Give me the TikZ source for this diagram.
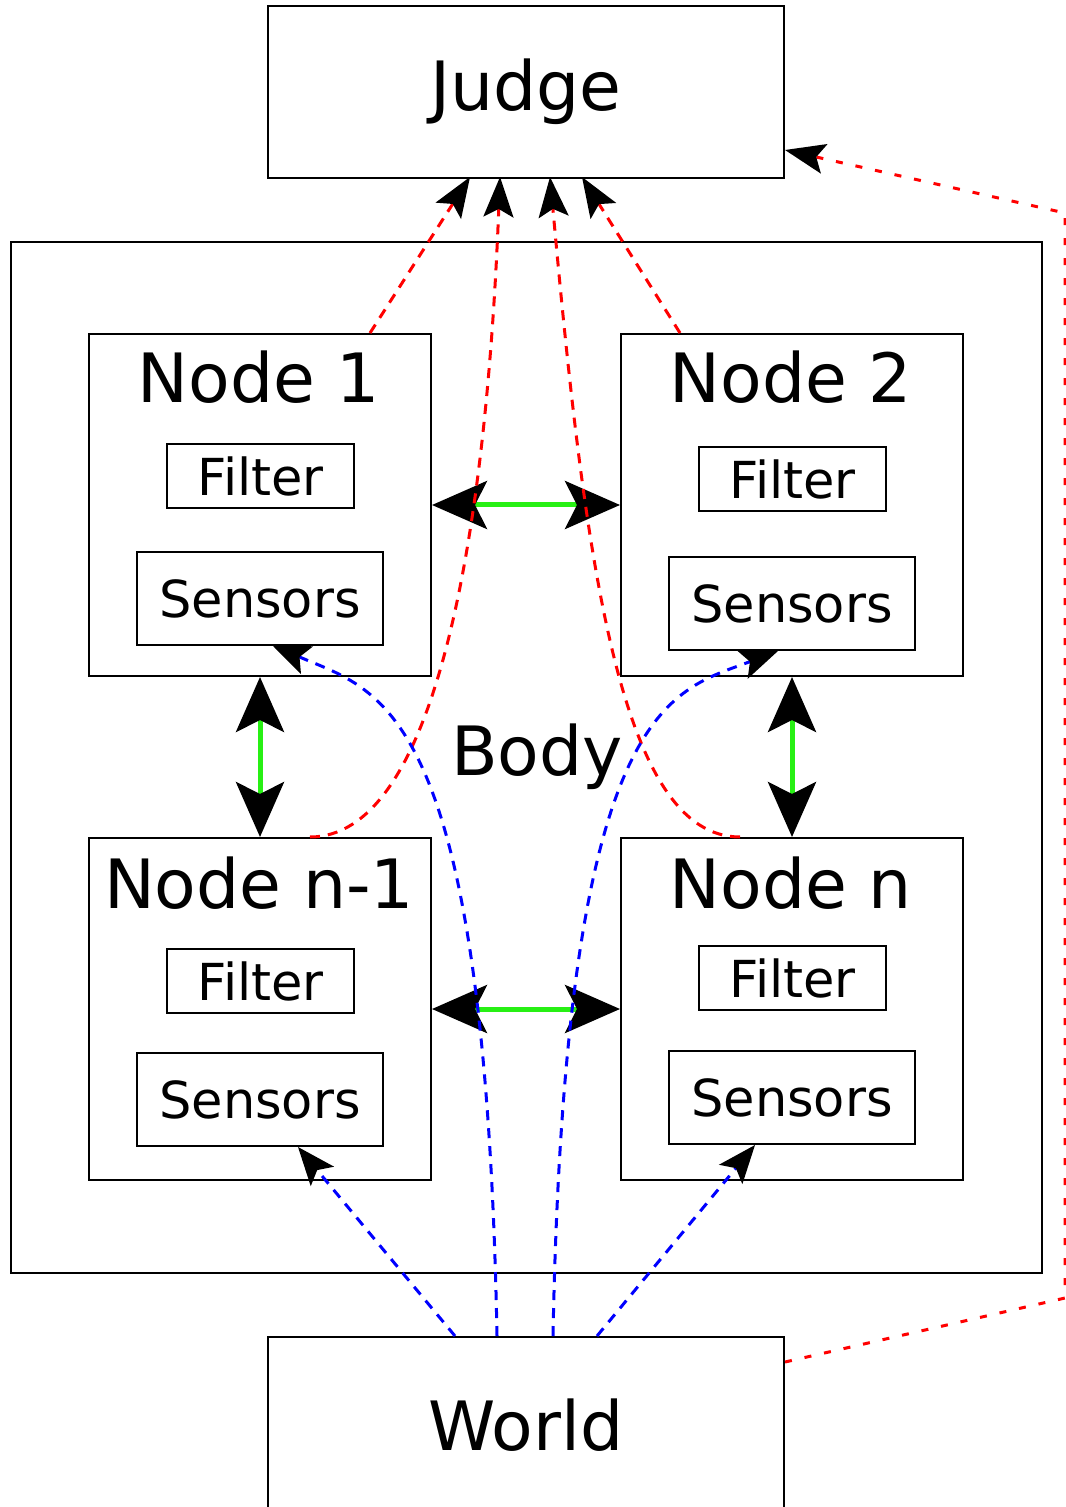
\documentclass[tikz,border=0pt]{standalone}
\usepackage{fontspec}
\setmainfont{DejaVu Sans}
\usetikzlibrary{arrows.meta, calc}

\definecolor{linkgreen}{RGB}{40,240,20}

\begin{document}
\begin{tikzpicture}[x=0.5pt, y=-0.5pt,
  box/.style={draw, line width=1pt, inner sep=0pt, anchor=north west},
  big/.style={font=\fontsize{34}{40}\selectfont},
  small/.style={font=\fontsize{25.5}{30}\selectfont},
  link/.style={linkgreen, line width=2.5pt,
    {Stealth[length=27.5pt, width=24pt, inset=6pt, color=black]}-{Stealth[length=27.5pt, width=24pt, inset=6pt, color=black]}},
  report/.style={red, line width=1.5pt, dash pattern=on 5pt off 4pt,
    -{Stealth[length=20pt, width=15pt, inset=4pt, color=black]}},
  truth/.style={red, line width=1.5pt, dash pattern=on 3.5pt off 6.5pt,
    -{Stealth[length=20pt, width=15pt, inset=4pt, color=black]}},
  sense/.style={blue, line width=1.5pt, dash pattern=on 5pt off 4pt,
    -{Stealth[length=19pt, width=15pt, inset=4pt, color=black]}}
]
	\useasboundingbox (0,0) rectangle (1065,1507);

	% outer boxes
	\node [box, minimum width=258pt, minimum height=86pt, big] (judge) at (267,5) {Judge};
	\node [box, minimum width=515.5pt, minimum height=515.5pt] (body) at (10,241) {};
	\node [big] (bodylabel) at (537,757) {Body};
	\node [box, minimum width=258pt, minimum height=88pt, big] (world) at (267,1336) {World};

	% the four nodes
	\node [box, minimum width=171pt, minimum height=171pt] (node1) at (88,333) {};
	\node [box, minimum width=171pt, minimum height=171pt] (node2) at (620,333) {};
	\node [box, minimum width=171pt, minimum height=171pt] (nodenm) at (88,837) {};
	\node [box, minimum width=171pt, minimum height=171pt] (noden) at (620,837) {};
	\node [big] (label1) at (259,377) {Node 1};
	\node [big] (label2) at (791,377) {Node 2};
	\node [big] (labelnm) at (259,883) {Node n-1};
	\node [big] (labeln) at (791,883) {Node n};

	\node [box, minimum width=93.5pt, minimum height=32pt, small] (filter1) at (166,443) {Filter};
	\node [box, minimum width=93.5pt, minimum height=32pt, small] (filter2) at (698,446) {Filter};
	\node [box, minimum width=93.5pt, minimum height=32pt, small] (filternm) at (166,948) {Filter};
	\node [box, minimum width=93.5pt, minimum height=32pt, small] (filtern) at (698,945) {Filter};
	\node [box, minimum width=123pt, minimum height=46.5pt, small] (sensors1) at (136,551) {Sensors};
	\node [box, minimum width=123pt, minimum height=46.5pt, small] (sensors2) at (668,556) {Sensors};
	\node [box, minimum width=123pt, minimum height=46.5pt, small] (sensorsnm) at (136,1052) {Sensors};
	\node [box, minimum width=123pt, minimum height=46.5pt, small] (sensorsn) at (668,1050) {Sensors};

	% links between nodes
	\draw [link] (node1.east) -- (node2.west);
	\draw [link] (nodenm.east) -- (noden.west);
	\draw [link] (node1.south) -- (nodenm.north);
	\draw [link] (node2.south) -- (noden.north);

	% reports to the judge
	\draw [report] ($(node1.north west)+(282,0)$) -- ($(judge.south west)+(203,-2)$);
	\draw [report] ($(node2.north west)+(60,0)$) -- ($(judge.south west)+(315,-2)$);
	\draw [report] ($(nodenm.north west)+(222,0)$) .. controls +(120,0) and +(-15,385) .. ($(judge.south west)+(233,-2)$);
	\draw [report] ($(noden.north west)+(120,0)$) .. controls +(-120,0) and +(35,385) .. ($(judge.south west)+(283,-2)$);
	\draw [truth] ($(world.north east)+(0,26)$) -- ++(280,-64) -- ++(0,-1085) -- ($(judge.north east)+(0,145)$);

	% world to sensors
	\draw [sense] ($(world.north west)+(188,0)$) -- ($(sensorsnm.south west)+(162,0)$);
	\draw [sense] ($(world.north west)+(330,0)$) -- ($(sensorsn.south west)+(87,0)$);
	\draw [sense] ($(world.north west)+(230,0)$) .. controls +(-12,-636) and +(108,47) .. ($(sensors1.south west)+(136,-1)$);
	\draw [sense] ($(world.north west)+(286,0)$) .. controls +(12,-636) and +(-108,41) .. ($(sensors2.south west)+(110,0)$);
\end{tikzpicture}
\end{document}
